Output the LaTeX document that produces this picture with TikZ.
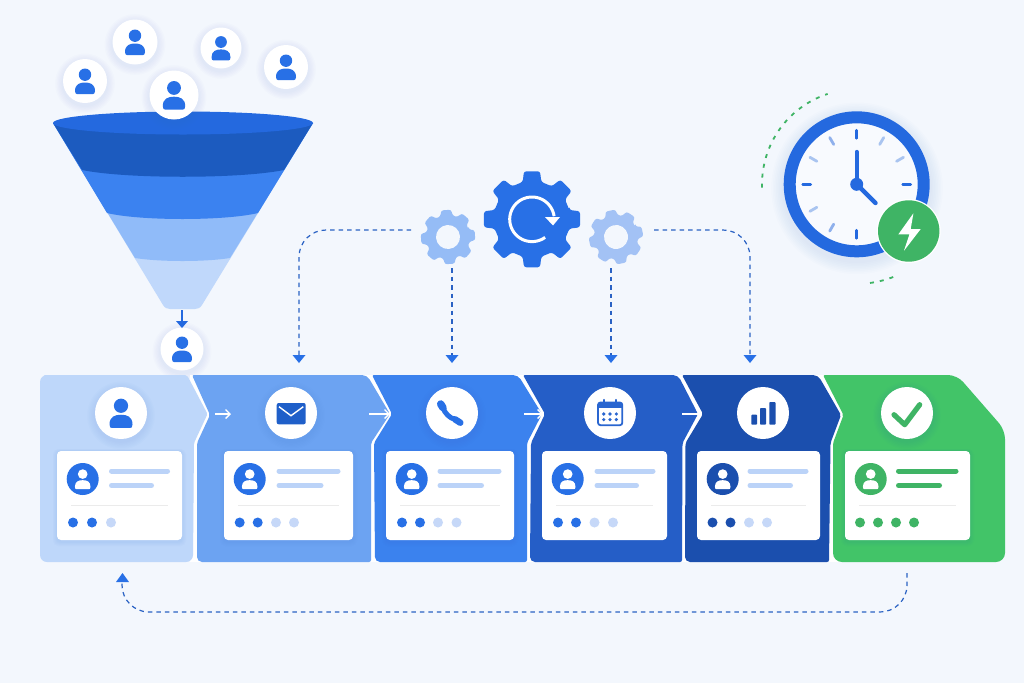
\documentclass[tikz,border=0pt]{standalone}
\usetikzlibrary{calc,arrows.meta}
\definecolor{pagebg}{HTML}{F3F7FD}
\definecolor{brand}{HTML}{2870E6}
\definecolor{ringblue}{HTML}{2469DF}
\definecolor{brandnavy}{HTML}{1B4FAE}
\definecolor{flowline}{HTML}{2A62C4}
\definecolor{barlight}{HTML}{BBD3F8}
\definecolor{dotlight}{HTML}{C6D8F8}
\definecolor{okgreen}{HTML}{42C468}
\definecolor{okdark}{HTML}{3FB465}
\definecolor{calblue}{HTML}{2A66D0}
\definecolor{shadowtone}{HTML}{3A6FC8}
\definecolor{tickpale}{HTML}{A9C4F0}
\definecolor{tickmid}{HTML}{8FB0EC}
\tikzset{
  x=1pt,y=-1pt,
  flow/.style={draw=flowline,line width=1.2pt,dash pattern=on 4.5pt off 4pt,rounded corners=27pt},
  flowtip/.style={fill=brand},
  pics/person/.style={code={
    \fill[#1] (0,-6.3) circle (6.2pt);
    \fill[#1] (-10,10) .. controls (-10,3) and (-5,1.5) .. (0,1.5)
      .. controls (5,1.5) and (10,3) .. (10,10)
      .. controls (10,12.5) and (9,13) .. (8,13) -- (-8,13)
      .. controls (-9,13) and (-10,12.5) .. (-10,10) -- cycle;
  }},
  pics/gearshape/.style n args={6}{code={
    % #1 outer radius, #2 root radius, #3 colour, #4 hole radius, #5 tip half angle, #6 root half angle
    \fill[#3,rounded corners=2.5pt]
      ({-#6}:#2) \foreach \a in {0,45,...,315}{
        -- ({\a-#6}:#2) -- ({\a-#5}:#1) -- ({\a+#5}:#1) -- ({\a+#6}:#2)
      } -- cycle;
    \ifdim #4pt>0pt \fill[pagebg] (0,0) circle (#4pt);\fi
  }}
}
% Soft drop shadow under a round badge
\newcommand{\softround}[3]{%
  \foreach \k in {1,...,6}{\fill[shadowtone,opacity=0.014] (#1,{#2+2.5}) circle ({#3+\k*1.3pt});}%
}
% White round badge with its soft shadow
\newcommand{\whitebadge}[4]{%
  \softround{#2}{#3}{#4pt}%
  \node[circle,fill=white,inner sep=0pt,minimum size={2*#4pt}] (#1) at (#2,#3) {};%
}
% Profile card: left, right, line start, end of line 1, end of line 2, avatar colour, line colour, dots
\newcommand{\profilecard}[8]{%
  \foreach \k in {1,...,5}{\fill[shadowtone,opacity=0.018,rounded corners=5pt] ({#1-\k*0.8},{451-\k*0.4}) rectangle ({#2+\k*0.8},{542+\k*0.8});}%
  \fill[white,rounded corners=4pt] (#1,451) rectangle (#2,540);%
  \fill[#6] ({#1+25.7},479) circle (16pt);%
  \pic[scale=.78] at ({#1+25.7},479) {person=white};%
  \draw[#7,line width=5pt,line cap=round] ({#3+2},471) -- ({#4-2},471);%
  \draw[#7,line width=5pt,line cap=round] ({#3+2},485.5) -- ({#5-2},485.5);%
  \draw[black!8,line width=.6pt] ({#1+14},505) -- ({#2-14},505);%
  \foreach \dx/\dc in {#8}{\fill[\dc] ({#1+\dx},522.5) circle (5pt);}%
}
\begin{document}
\begin{tikzpicture}
\useasboundingbox (0,0) rectangle (1024,683);
\fill[pagebg] (0,0) rectangle (1024,683);

% ---------- funnel ----------
\fill[color={rgb,255:red,192;green,216;blue,251}] (53,123) -- (163,305) .. controls (165,308) and (167,309) .. (170,309) -- (195,309) .. controls (198,309) and (200,308) .. (202,305) -- (313,123) -- cycle;
\fill[color={rgb,255:red,144;green,187;blue,249}] (53,123) -- (135,258) .. controls (160,262) and (205,262) .. (230,258) -- (313,123) -- cycle;
\fill[color={rgb,255:red,59;green,130;blue,240}] (53,123) -- (107,213) .. controls (140,221) and (225,221) .. (258,213) -- (313,123) -- cycle;
\fill[color={rgb,255:red,28;green,91;blue,191}] (53,123) -- (82,170) .. controls (125,179) and (240,179) .. (284,170) -- (313,123) -- cycle;
\fill[ringblue] (183,123) ellipse (130pt and 11.5pt);

% ---------- people entering the funnel ----------
\whitebadge{userA}{85}{81}{22}
\whitebadge{userB}{135}{42}{22.5}
\whitebadge{userC}{221}{48}{20.5}
\whitebadge{userD}{286}{67}{22}
\whitebadge{userE}{174}{95}{24.5}
\pic at (85,81) {person=brand};
\pic at (135,42) {person=brand};
\pic[scale=.95] at (221,48) {person=brand};
\pic at (286,67) {person=brand};
\pic[scale=1.12] at (174,95) {person=brand};
\whitebadge{userOut}{182}{349}{21.5}
\pic at (182,349) {person=brand};
\coordinate (funnelTip) at (182,310);
\draw[ringblue,line width=2.4pt] (funnelTip) -- (182,322);
\fill[ringblue] (176,321) -- (188,321) -- (182,328) -- cycle;

% ---------- stage band ----------
\fill[white] (190,375) rectangle (846,562);
\fill[color={rgb,255:red,190;green,215;blue,250},rounded corners=7pt] (46,375) -- (40,375) -- (40,562) -- (193,562) [rounded corners=1.5pt] -- (194,443) -- (207.5,414) [rounded corners=2pt] -- (187,375) -- cycle;
\fill[color={rgb,255:red,108;green,163;blue,242},rounded corners=5pt] (197,562) [rounded corners=2pt] -- (197,443) -- (210,415) -- (192,375) [rounded corners=5pt] -- (367,375) [rounded corners=2pt] -- (390,414) -- (371,443) -- (371,562) [rounded corners=5pt] -- cycle;
\fill[color={rgb,255:red,59;green,130;blue,238},rounded corners=5pt] (375,562) [rounded corners=2pt] -- (374,443) -- (392,414) -- (372,375) [rounded corners=5pt] -- (518,375) [rounded corners=2pt] -- (542,414) -- (527,443) -- (527,562) [rounded corners=5pt] -- cycle;
\fill[color={rgb,255:red,37;green,94;blue,199},rounded corners=5pt] (530,562) [rounded corners=2pt] -- (531,443) -- (545,414) -- (523,375) [rounded corners=5pt] -- (678,375) [rounded corners=2pt] -- (698,414) -- (682.5,443) -- (682,562) [rounded corners=5pt] -- cycle;
\fill[brandnavy,rounded corners=5pt] (685,562) [rounded corners=2pt] -- (685.5,443) -- (703,414) -- (682,375) [rounded corners=5pt] -- (818,375) [rounded corners=2pt] -- (841,415) -- (830.5,443) -- (829,562) [rounded corners=5pt] -- cycle;
\fill[okgreen,rounded corners=6pt] (833,562) [rounded corners=2pt] -- (833,443) -- (843.5,415) -- (823,375) [rounded corners=9pt] -- (957,375) -- (1005,430) -- (1005,562) -- cycle;

% ---------- arrows between stages ----------
\foreach \xa/\xb in {215/231,369/390,524/543,682/702}{
  \coordinate (stepFrom) at (\xa,414);
  \coordinate (stepTo) at (\xb,414);
  \draw[white,line width=1.3pt,-{Straight Barb[length=4.5pt,width=9pt]}] (stepFrom) -- (stepTo);
}

% ---------- stage icons ----------
\whitebadge{iconLead}{121}{413}{26}
\whitebadge{iconMail}{291}{413}{26}
\whitebadge{iconCall}{452}{413}{26}
\whitebadge{iconDate}{610}{413}{26}
\whitebadge{iconStat}{763}{413}{26}
\whitebadge{iconDone}{907}{413}{26}

\pic[scale=1.15] at (121,413) {person=brand};

% envelope
\fill[color={rgb,255:red,31;green,95;blue,201},rounded corners=2pt] (276.7,403) rectangle (305.7,424.3);
\draw[white,line width=1.4pt] (279,406.7) -- (291,415.7) -- (303.3,406.7);

% telephone handset
\draw[brand,line width=5pt] (443,407.7) .. controls (444.5,413) and (450,418.5) .. (455,419.3);
\draw[brand,line width=7.5pt,line cap=round] (440.7,404) -- (443,407.7);
\draw[brand,line width=6.5pt,line cap=round] (455,419.3) -- (460.3,422.7);

% calendar
\draw[calblue,line width=1.8pt,rounded corners=2.5pt] (598,402.5) rectangle (622.3,425.2);
\fill[calblue] (598,402.5) rectangle (622.3,408);
\foreach \dx in {-6.3,6.3}{\draw[calblue,line width=2.2pt,line cap=round] ({610+\dx},400) -- ({610+\dx},403);}
\foreach \dx in {-6.3,0,6.3}{\foreach \dy in {414,419.6}{\fill[calblue] ({610+\dx},\dy) circle (1.8pt);}}

% bar chart
\fill[brandnavy,rounded corners=.8pt] (751.3,414.7) rectangle (757,424.7);
\fill[brandnavy,rounded corners=.8pt] (760,408) rectangle (766,424.7);
\fill[brandnavy,rounded corners=.8pt] (769.3,402) rectangle (775.5,424.7);

% check mark
\draw[okdark,line width=5.2pt,line cap=round,line join=round] (894,414.7) -- (904.7,424.7) -- (919.7,404.7);

% ---------- stage cards ----------
\profilecard{57}{182}{109.5}{169.5}{153.5}{brand}{barlight}{16/brand,35/brand,54/dotlight}
\profilecard{224}{353}{277}{340}{323}{brand}{barlight}{15.7/brand,33.7/brand,52/dotlight,70/dotlight}
\profilecard{386}{514}{438}{501}{483.5}{brand}{barlight}{16/brand,34/brand,52/dotlight,70.5/dotlight}
\profilecard{542}{667}{595}{655}{638.5}{brand}{barlight}{16/brand,34/brand,52.5/dotlight,71/dotlight}
\profilecard{697}{820}{748}{808}{792.5}{brandnavy}{barlight}{15.5/brandnavy,33.5/brandnavy,52/dotlight,70/dotlight}
\profilecard{845}{970}{896.5}{958}{941.5}{okdark}{okdark}{15/okdark,33/okdark,51/okdark,69/okdark}

% ---------- gears ----------
\pic at (532,219.3) {gearshape={48.7}{38.5}{brand}{0}{9.5}{14}};
\pic[rotate=4] at (448,237) {gearshape={27.5}{22}{color={rgb,255:red,149;green,188;blue,246}}{12}{11}{15.5}};
\pic[rotate=12] at (616,237) {gearshape={27.5}{22}{color={rgb,255:red,163;green,194;blue,245}}{12}{11}{15.5}};
\draw[white,line width=3pt,domain=54:352,samples=50,smooth] plot ({532+22.3*cos(\x)},{219.3+22.3*sin(\x)});
\fill[white] (545,217) -- (560,217) -- (553,225.5) -- cycle;

% ---------- process connectors ----------
\coordinate (gearLeftW) at (411,230);
\coordinate (gearLeftS) at (452,268);
\coordinate (gearRightS) at (611,268);
\coordinate (gearRightE) at (654,230);
\coordinate (dropA) at (299,356);
\coordinate (dropB) at (452,356);
\coordinate (dropC) at (611,356);
\coordinate (dropD) at (750,356);
\draw[flow] (gearLeftW) -| (dropA);
\draw[flow] (gearLeftS) -- (dropB);
\draw[flow] (gearRightS) -- (dropC);
\draw[flow] (gearRightE) -| (dropD);
\foreach \tipx in {299,452,611,750}{\fill[flowtip] ({\tipx-6.5},355) -- ({\tipx+6.5},355) -- (\tipx,363) -- cycle;}

% return path from the last stage to the first
\coordinate (returnFrom) at (907,573);
\coordinate (returnMid) at (907,612);
\coordinate (returnBack) at (122,612);
\coordinate (returnTo) at (122,581);
\draw[flow] (returnFrom) -- (returnMid) -- (returnBack) -- (returnTo);
\fill[flowtip] (116,582) -- (129,582) -- (122.5,573) -- cycle;

% ---------- clock ----------
\foreach \k in {1,...,8}{\fill[shadowtone,opacity=0.012] (857,{188.3}) circle ({73pt+\k*1.6pt});}
\fill[color={rgb,255:red,248;green,250;blue,254}] (856.7,184.3) circle (62pt);
\draw[ringblue,line width=12pt] (856.7,184.3) circle (67pt);
\foreach \ang/\tone in {0/ringblue,90/ringblue,180/ringblue,270/ringblue,
   30/tickpale,60/tickpale,210/tickmid,240/tickpale,300/tickpale,330/tickmid}{
  \draw[\tone,line width=2.8pt,line cap=round] ({856.7+46*sin(\ang)},{184.3-46*cos(\ang)}) -- ({856.7+54*sin(\ang)},{184.3-54*cos(\ang)});
}
\draw[ringblue,line width=4.4pt,line cap=round] (856.7,184.3) -- (856.7,152);
\draw[ringblue,line width=4.4pt,line cap=round] (856.7,184.3) -- (875.5,203);
\fill[ringblue] (856.7,184.3) circle (6.5pt);

% speed badge on the clock
\fill[white] (908.7,231) circle (32pt);
\node[circle,fill=okdark,inner sep=0pt,minimum size=61.4pt] (speedBadge) at (908.7,231) {};
\fill[white] (913.4,213.3) -- (898.4,234.3) -- (909.4,234.3) -- (904,250.7) -- (920.7,229) -- (910.7,229) -- cycle;

% green motion arcs around the clock
\draw[okdark,line width=1.8pt,dash pattern=on 4pt off 6pt,domain=178:252,samples=40,smooth] plot ({857+95*cos(\x)},{184.3+95*sin(\x)});
\draw[okdark,line width=1.8pt,dash pattern=on 4pt off 6pt,domain=82.5:67,samples=12,smooth] plot ({857+99.5*cos(\x)},{184.3+99.5*sin(\x)});
\end{tikzpicture}
\end{document}
